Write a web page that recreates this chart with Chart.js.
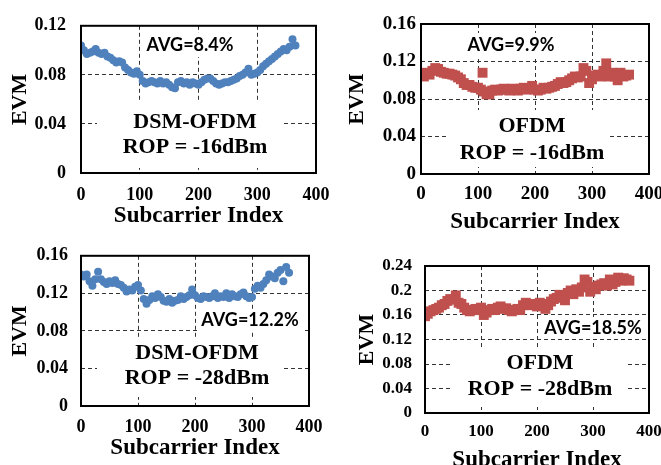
<!DOCTYPE html>
<html><head><meta charset="utf-8">
<script src="https://cdn.jsdelivr.net/npm/chart.js@4/dist/chart.umd.min.js"></script>
<style>
html,body{margin:0;padding:0;background:#fff;width:661px;height:465px;overflow:hidden;position:relative}
canvas{position:absolute;display:block}
</style></head><body>
<canvas id="c1"></canvas><canvas id="c2"></canvas><canvas id="c3"></canvas><canvas id="c4"></canvas>
<script>
// ---------------- data ----------------
const subcarrierIdx = [0,5,10,15,20,25,30,35,40,45,50,55,60,65,70,75,80,85,90,95,100,105,110,115,120,125,130,135,140,145,150,155,160,165,170,175,180,185,190,195,200,205,210,215,220,225,230,235,240,245,250,255,260,265,270,275,280,285,290,295,300,305,310,315,320,325,330,335,340,345,350,355,360,365];
const dsm16Evm = [0.104,0.100,0.097,0.098,0.099,0.101,0.098,0.097,0.098,0.095,0.094,0.092,0.090,0.091,0.090,0.086,0.084,0.082,0.081,0.083,0.080,0.075,0.073,0.074,0.075,0.074,0.073,0.075,0.073,0.074,0.072,0.070,0.069,0.074,0.075,0.073,0.074,0.072,0.074,0.073,0.072,0.074,0.076,0.077,0.077,0.075,0.073,0.072,0.073,0.074,0.074,0.075,0.076,0.077,0.079,0.080,0.082,0.085,0.080,0.081,0.082,0.084,0.087,0.089,0.091,0.093,0.095,0.097,0.099,0.101,0.100,0.103,0.109,0.104];
const ofdm16Evm = [0.107,0.104,0.108,0.106,0.110,0.113,0.112,0.109,0.108,0.107,0.107,0.106,0.105,0.103,0.101,0.097,0.095,0.095,0.093,0.092,0.092,0.090,0.088,0.085,0.085,0.089,0.090,0.089,0.090,0.091,0.090,0.089,0.091,0.090,0.089,0.091,0.092,0.090,0.091,0.094,0.090,0.089,0.090,0.092,0.091,0.092,0.093,0.094,0.096,0.098,0.097,0.098,0.100,0.102,0.104,0.103,0.104,0.113,0.110,0.097,0.101,0.105,0.106,0.104,0.110,0.118,0.104,0.108,0.104,0.100,0.108,0.104,0.105,0.106];
const ofdm16OutlierIdx = [108];
const ofdm16OutlierEvm = [0.108];
const dsm28Evm = [0.140,0.138,0.140,0.133,0.128,0.135,0.143,0.135,0.132,0.130,0.133,0.131,0.134,0.130,0.129,0.126,0.122,0.124,0.123,0.127,0.129,0.123,0.114,0.109,0.113,0.117,0.115,0.119,0.116,0.112,0.111,0.114,0.110,0.112,0.113,0.117,0.114,0.116,0.118,0.124,0.118,0.115,0.114,0.117,0.116,0.115,0.117,0.120,0.115,0.117,0.116,0.120,0.115,0.119,0.117,0.116,0.119,0.121,0.117,0.115,0.116,0.125,0.128,0.126,0.130,0.134,0.140,0.138,0.136,0.142,0.145,0.133,0.148,0.142];
const ofdm28Evm = [0.158,0.162,0.166,0.168,0.170,0.172,0.176,0.178,0.183,0.186,0.185,0.192,0.180,0.178,0.172,0.168,0.166,0.168,0.170,0.168,0.172,0.160,0.164,0.168,0.170,0.168,0.172,0.174,0.170,0.171,0.168,0.166,0.168,0.170,0.168,0.176,0.180,0.178,0.176,0.178,0.174,0.180,0.178,0.170,0.176,0.182,0.186,0.188,0.193,0.190,0.184,0.196,0.200,0.194,0.202,0.198,0.205,0.218,0.214,0.198,0.206,0.202,0.208,0.210,0.212,0.208,0.218,0.210,0.214,0.221,0.216,0.220,0.218,0.216];

const xTickVals = [0,100,200,300,400];
const yTickValsA = [0,0.04,0.08,0.12];
const yTickValsB = [0,0.04,0.08,0.12,0.16];
const yTickValsC = [0,0.04,0.08,0.12,0.16,0.2,0.24];
const xTitle = 'Subcarrier Index';
const yTitle = 'EVM';
const avgLabels = ['AVG=8.4%','AVG=9.9%','AVG=12.2%','AVG=18.5%'];
const schemeLabels = ['DSM-OFDM','OFDM','DSM-OFDM','OFDM'];
const ropLabels = ['ROP = -16dBm','ROP = -16dBm','ROP = -28dBm','ROP = -28dBm'];

// ---------------- layout / style ----------------
const BLUE = '#4f81bd', RED = '#c0504d';
const SERIF = '"Liberation Serif","Times New Roman",serif';
const SANS = 'Lato,"Liberation Sans",sans-serif';

const panels = [
  {id:'c1', cx:0, cy:0, area:{l:81,t:19,r:316,b:173}, yTitleX:20, xTitleY:216, yGap:15, xLabY:195, tick:18,
   yTicks:yTickValsA, ymax:0.12, color:BLUE, style:'circle', radius:4,
   sets:[[subcarrierIdx, dsm16Evm]],
   avg:{x:190,y:45,box:[142,33,238,57]}, block:{x:195,y1:122,y2:147,box:[97,100,282,168]}, k:0},
  {id:'c2', cx:330, cy:0, area:{l:421,t:24,r:649,b:174}, yTitleX:357, xTitleY:222, yGap:5, xLabY:194, tick:19,
   yTicks:yTickValsB, ymax:0.16, color:RED, style:'rect', radius:7,
   sets:[[subcarrierIdx, ofdm16Evm],[ofdm16OutlierIdx, ofdm16OutlierEvm]],
   avg:{x:511,y:45,box:[466,33,556,57]}, block:{x:532,y1:126,y2:153,box:[448,110,607,167]}, k:1},
  {id:'c3', cx:0, cy:232, area:{l:81,t:255,r:309,b:406}, yTitleX:20, xTitleY:448, yGap:13, xLabY:427, tick:18,
   yTicks:yTickValsB, ymax:0.16, color:BLUE, style:'circle', radius:4,
   sets:[[subcarrierIdx, dsm28Evm]],
   avg:{x:250,y:320,box:[200,309,302,332]}, block:{x:197,y1:353,y2:378,box:[97,337,282,397]}, k:2},
  {id:'c4', cx:330, cy:232, area:{l:425,t:266,r:649,b:413}, yTitleX:367, xTitleY:460, yGap:13, xLabY:432, tick:17,
   yTicks:yTickValsC, ymax:0.24, color:RED, style:'rect', radius:7,
   sets:[[subcarrierIdx, ofdm28Evm]],
   avg:{x:593,y:328,box:[543,317,645,339]}, block:{x:540,y1:363,y2:389,box:[450,347,625,407]}, k:3}
];

const textPlugin = {
  id:'panelText',
  beforeDatasetsDraw(chart, args, o){
    const p = o.p, ctx = chart.ctx;
    ctx.save();
    ctx.fillStyle = '#fff';
    [p.avg.box, p.block.box].forEach(b=>{
      ctx.fillRect(b[0]-p.cx, b[1]-p.cy, b[2]-b[0], b[3]-b[1]);
    });
    ctx.fillStyle = '#000';
    ctx.textAlign = 'center'; ctx.textBaseline = 'middle';
    ctx.font = 'bold 18px ' + SANS;
    ctx.fillText(avgLabels[p.k], p.avg.x-p.cx, p.avg.y-p.cy);
    ctx.font = 'bold 22px ' + SERIF;
    ctx.fillText(schemeLabels[p.k], p.block.x-p.cx, p.block.y1-p.cy);
    ctx.fillText(ropLabels[p.k], p.block.x-p.cx, p.block.y2-p.cy);
    ctx.restore();
  },
  afterDatasetsDraw(chart){
    const a = chart.chartArea, ctx = chart.ctx;
    ctx.save();
    ctx.strokeStyle = '#000'; ctx.lineWidth = 2;
    ctx.strokeRect(a.left, a.top, a.right-a.left, a.bottom-a.top);
    ctx.restore();
  }
};

const gridColor = c => (c.index===0 || c.index===c.scale.ticks.length-1) ? 'rgba(0,0,0,0)' : '#333';

panels.forEach(p=>{
  const cv = document.getElementById(p.id);
  const yAxisW = p.area.l - p.cx;
  const padRight = 26;
  const xAxisH = Math.round(p.xTitleY + 13.8 - p.area.b);
  const W = p.area.r - p.cx + padRight;
  const H = p.area.b + xAxisH - p.cy;
  cv.width = W; cv.height = H;
  cv.style.left = p.cx + 'px'; cv.style.top = p.cy + 'px';
  cv.style.width = W + 'px'; cv.style.height = H + 'px';
  const datasets = p.sets.map(s=>({
    data: s[0].map((x,i)=>({x:x, y:s[1][i]})),
    backgroundColor: p.color, borderWidth:0, pointStyle:p.style,
    pointRadius:p.radius, pointHoverRadius:p.radius, showLine:false
  }));
  new Chart(cv, {
    type:'scatter',
    data:{datasets},
    plugins:[textPlugin],
    options:{
      responsive:false, animation:false, devicePixelRatio:1,
      layout:{padding:{left:0, top:p.area.t - p.cy, right:padRight, bottom:0}},
      plugins:{legend:{display:false}, tooltip:{enabled:false}, panelText:{p}},
      scales:{
        x:{type:'linear', min:0, max:400,
          afterBuildTicks:s=>{ s.ticks = xTickVals.map(v=>({value:v})); },
          afterFit:s=>{ s.height = xAxisH; },
          ticks:{callback:v=>String(v), color:'#000', padding:p.xLabY - p.area.b - p.tick*0.6, maxRotation:0,
                 font:{family:SERIF, weight:'bold', size:p.tick}},
          grid:{color:gridColor, lineWidth:1, drawTicks:false},
          border:{display:false, dash:[4,3]},
          title:{display:true, text:xTitle, color:'#000', padding:{top:0,bottom:0},
                 font:{family:SERIF, weight:'bold', size:23}}
        },
        y:{type:'linear', min:0, max:p.ymax,
          afterBuildTicks:s=>{ s.ticks = p.yTicks.map(v=>({value:v})); },
          afterFit:s=>{ s.width = yAxisW; },
          ticks:{callback:v=>String(v), color:'#000', padding:p.yGap,
                 font:{family:SERIF, weight:'bold', size:p.tick}},
          grid:{color:gridColor, lineWidth:1, drawTicks:false},
          border:{display:false, dash:[4,3]},
          title:{display:true, text:yTitle, color:'#000',
                 padding:{top:p.yTitleX - p.cx - 13.2, bottom:0},
                 font:{family:SERIF, weight:'bold', size:22}}
        }
      }
    }
  });
});
</script>
</body></html>
